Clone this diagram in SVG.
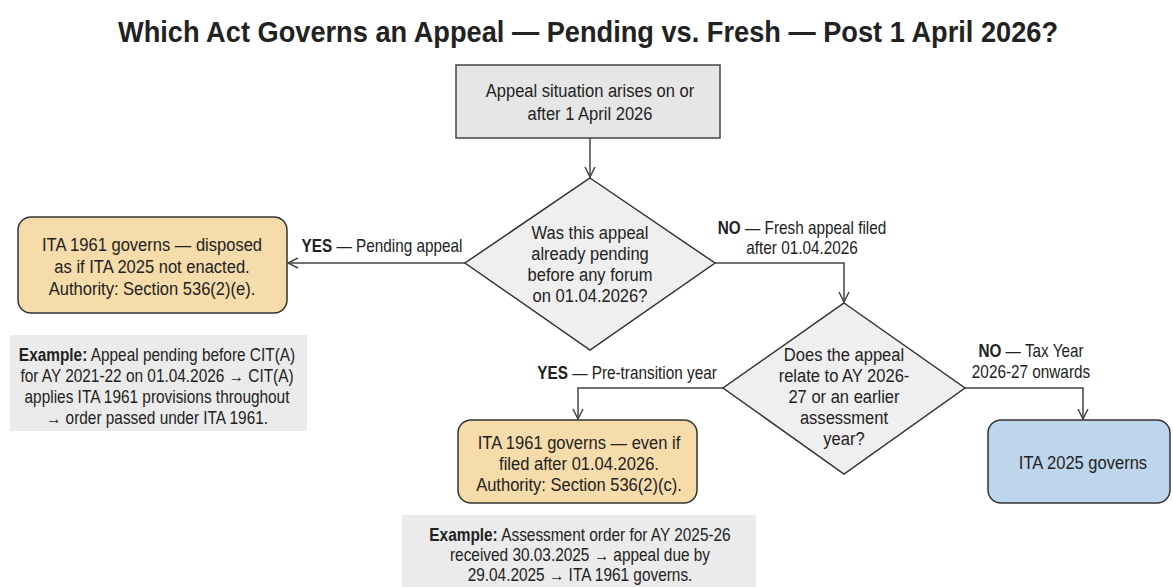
<svg xmlns="http://www.w3.org/2000/svg" width="1173" height="587" viewBox="0 0 1173 587">
<style>
text{font-family:"Liberation Sans",Arial,sans-serif;fill:#222;text-anchor:middle}
.t{font-size:19px}
.s{font-size:17.5px}
.lbl{font-size:17.5px}
.b{font-weight:bold}
.conn{fill:none;stroke:#444;stroke-width:1.5}
.dia{fill:#efefef;stroke:#333;stroke-width:1.5}
.res{fill:#f5dcaa;stroke:#333;stroke-width:1.5}
.ex{fill:#ebebeb}
</style>
<defs>
<marker id="ah" viewBox="0 0 12 12" refX="11" refY="6" markerWidth="12" markerHeight="12" markerUnits="userSpaceOnUse" orient="auto">
<path d="M1,1 L11,6 L1,11" fill="none" stroke="#444" stroke-width="1.5"/>
</marker>
</defs>
<rect width="1173" height="587" fill="#fff"/>
<text x="588" y="42" font-size="29" font-weight="bold" textLength="940" lengthAdjust="spacingAndGlyphs">Which Act Governs an Appeal — Pending vs. Fresh — Post 1 April 2026?</text>

<g id="connectors">
<path class="conn" d="M590,138 V177" marker-end="url(#ah)"/>
<path class="conn" d="M465,263 H288" marker-end="url(#ah)"/>
<path class="conn" d="M715,263 H844 V302" marker-end="url(#ah)"/>
<path class="conn" d="M723,388 H578 V419" marker-end="url(#ah)"/>
<path class="conn" d="M965,388 H1083 V419" marker-end="url(#ah)"/>
<g transform="translate(382,0) scale(0.875,1)">
<text class="lbl" x="0" y="252"><tspan class="b">YES</tspan> — Pending appeal</text>
</g>
<g transform="translate(802,0) scale(0.875,1)">
<text class="lbl" x="0" y="234"><tspan class="b">NO</tspan> — Fresh appeal filed</text>
<text class="lbl" x="0" y="254">after 01.04.2026</text>
</g>
<g transform="translate(627,0) scale(0.875,1)">
<text class="lbl" x="0" y="379"><tspan class="b">YES</tspan> — Pre-transition year</text>
</g>
<g transform="translate(1031,0) scale(0.875,1)">
<text class="lbl" x="0" y="357"><tspan class="b">NO</tspan> — Tax Year</text>
<text class="lbl" x="0" y="378">2026-27 onwards</text>
</g>
</g>

<g id="start">
<rect x="456" y="65" width="264" height="73" fill="#e6e6e6" stroke="#444" stroke-width="1.5"/>
<g transform="translate(590,0) scale(0.87,1)">
<text class="t" x="0" y="97">Appeal situation arises on or</text>
<text class="t" x="0" y="120">after 1 April 2026</text>
</g>
</g>

<g id="q1">
<polygon class="dia" points="590,178 715,263 590,350 465,263"/>
<g transform="translate(590,0) scale(0.87,1)">
<text class="t" x="0" y="239">Was this appeal</text>
<text class="t" x="0" y="260">already pending</text>
<text class="t" x="0" y="281">before any forum</text>
<text class="t" x="0" y="302">on 01.04.2026?</text>
</g>
</g>

<g id="pending">
<rect class="res" x="18" y="217" width="269" height="96" rx="13"/>
<g transform="translate(152,0) scale(0.87,1)">
<text class="t" x="0" y="251">ITA 1961 governs — disposed</text>
<text class="t" x="0" y="273">as if ITA 2025 not enacted.</text>
<text class="t" x="0" y="295">Authority: Section 536(2)(e).</text>
</g>
</g>

<g id="example1">
<rect class="ex" x="10" y="335" width="297" height="96"/>
<g transform="translate(157,0) scale(0.88,1)">
<text class="s" x="0" y="361"><tspan class="b">Example:</tspan> Appeal pending before CIT(A)</text>
<text class="s" x="0" y="382">for AY 2021-22 on 01.04.2026 → CIT(A)</text>
<text class="s" x="0" y="403">applies ITA 1961 provisions throughout</text>
<text class="s" x="0" y="424">→ order passed under ITA 1961.</text>
</g>
</g>

<g id="q2">
<polygon class="dia" points="844,303 965,388 844,474 723,388"/>
<g transform="translate(844,0) scale(0.87,1)">
<text class="t" x="0" y="361">Does the appeal</text>
<text class="t" x="0" y="382">relate to AY 2026-</text>
<text class="t" x="0" y="403">27 or an earlier</text>
<text class="t" x="0" y="424">assessment</text>
<text class="t" x="0" y="445">year?</text>
</g>
</g>

<g id="pretransition">
<rect class="res" x="458" y="420" width="239" height="83" rx="13"/>
<g transform="translate(579,0) scale(0.87,1)">
<text class="t" x="0" y="449">ITA 1961 governs — even if</text>
<text class="t" x="0" y="470">filed after 01.04.2026.</text>
<text class="t" x="0" y="491">Authority: Section 536(2)(c).</text>
</g>
</g>

<g id="example2">
<rect class="ex" x="402" y="515" width="354" height="80"/>
<g transform="translate(580,0) scale(0.88,1)">
<text class="s" x="0" y="541"><tspan class="b">Example:</tspan> Assessment order for AY 2025-26</text>
<text class="s" x="0" y="561">received 30.03.2025 → appeal due by</text>
<text class="s" x="0" y="581">29.04.2025 → ITA 1961 governs.</text>
</g>
</g>

<g id="ita2025">
<rect x="988" y="420" width="182" height="83" rx="13" fill="#bdd6ec" stroke="#333" stroke-width="1.5"/>
<g transform="translate(1083,0) scale(0.87,1)">
<text class="t" x="0" y="469">ITA 2025 governs</text>
</g>
</g>
</svg>
